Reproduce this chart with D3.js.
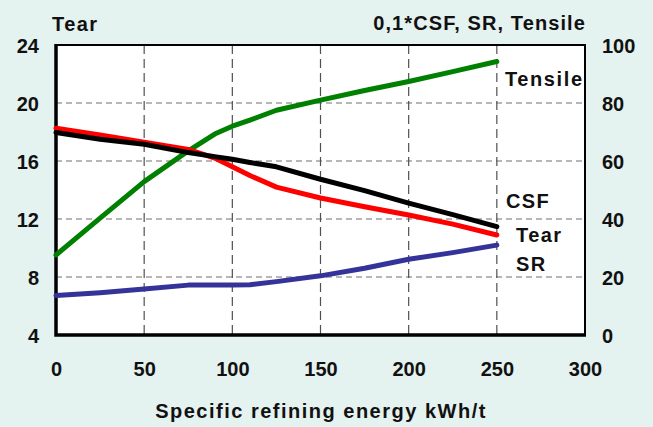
<!DOCTYPE html>
<html>
<head>
<meta charset="utf-8">
<script src="https://cdn.jsdelivr.net/npm/d3@7"></script>
<style>
  body { margin: 0; background: #e4f2f0; }
  svg text { font-family: "Liberation Sans", Arial, sans-serif; font-weight: bold; fill: #111; }
</style>
</head>
<body>
<svg id="chart"></svg>
<script>
const energy  = [0, 25, 50, 75, 90, 100, 110, 125, 150, 175, 200, 225, 250];
const tear    = [18.26, 17.8, 17.3, 16.8, 16.2, 15.6, 15.0, 14.2, 13.45, 12.85, 12.28, 11.65, 10.9];
const csf     = [69.8, 67.5, 65.8, 62.9, 61.5, 60.6, 59.5, 58.0, 53.7, 49.8, 45.5, 41.5, 37.4];
const sr      = [13.6, 14.6, 15.9, 17.2, 17.2, 17.2, 17.3, 18.4, 20.4, 23.0, 26.1, 28.4, 31.0];
const tensile = [27.6, 40.3, 52.9, 63.5, 69.3, 72.0, 74.1, 77.5, 81.0, 84.3, 87.4, 90.8, 94.3];
const xTicks = [0, 50, 100, 150, 200, 250, 300];
const leftTicks = [4, 8, 12, 16, 20, 24];
const rightTicks = [0, 20, 40, 60, 80, 100];

const W = 653, H = 427;
const L = 56, R = 585, T = 45, B = 335;

const svg = d3.select('#chart').attr('width', W).attr('height', H);

const x = d3.scaleLinear().domain([0, 300]).range([L, R]);
const yL = d3.scaleLinear().domain([4, 24]).range([B, T]);
const yR = d3.scaleLinear().domain([0, 100]).range([B, T]);

svg.append('rect')
    .attr('x', L).attr('y', T)
    .attr('width', R - L).attr('height', B - T)
    .attr('fill', '#fff');

// grid
svg.append('g').selectAll('line')
    .data(leftTicks.filter(d => d > 4 && d < 24))
    .enter().append('line')
    .attr('x1', L).attr('x2', R)
    .attr('y1', d => yL(d)).attr('y2', d => yL(d))
    .attr('stroke', '#707070').attr('stroke-width', 1.2)
    .attr('stroke-dasharray', '6,4');

svg.append('g').selectAll('line')
    .data(xTicks.filter(d => d > 0 && d < 300))
    .enter().append('line')
    .attr('x1', d => x(d)).attr('x2', d => x(d))
    .attr('y1', T).attr('y2', B)
    .attr('stroke', '#505050').attr('stroke-width', 1.2)
    .attr('stroke-dasharray', '9,5');

// frame
svg.append('rect')
    .attr('x', L).attr('y', T)
    .attr('width', R - L).attr('height', B - T)
    .attr('fill', 'none').attr('stroke', '#000').attr('stroke-width', 2);
svg.append('path')
    .attr('d', `M${L},${T - 1}V${B}H${R + 1}`)
    .attr('fill', 'none').attr('stroke', '#000').attr('stroke-width', 3.5);

// axes (labels only)
const axL = svg.append('g')
    .attr('transform', `translate(${L - 17},0)`)
    .call(d3.axisLeft(yL).tickValues(leftTicks).tickSize(0).tickPadding(0));
const axR = svg.append('g')
    .attr('transform', `translate(${R + 17},0)`)
    .call(d3.axisRight(yR).tickValues(rightTicks).tickSize(0).tickPadding(0));
const axB = svg.append('g')
    .attr('transform', `translate(0,${B + 27})`)
    .call(d3.axisBottom(x).tickValues(xTicks).tickSize(0).tickPadding(0));
[axL, axR, axB].forEach(a => {
    a.select('.domain').remove();
    a.selectAll('text')
        .style('font-size', '20px')
        .style('font-family', '"Liberation Sans", Arial, sans-serif')
        .style('font-weight', 'bold')
        .attr('fill', '#111');
});
axL.selectAll('text').attr('dy', '0.36em');
axR.selectAll('text').attr('dy', '0.36em');
axB.selectAll('text').attr('dy', '0.71em');

// series
const lineL = d3.line().x((d, i) => x(energy[i])).y(d => yL(d));
const lineR = d3.line().x((d, i) => x(energy[i])).y(d => yR(d));

const series = [
    { vals: sr, line: lineR, color: '#333399' },
    { vals: tensile, line: lineR, color: '#008000' },
    { vals: tear, line: lineL, color: '#ff0000' },
    { vals: csf, line: lineR, color: '#000000' }
];
series.forEach(s => {
    svg.append('path')
        .datum(s.vals)
        .attr('d', s.line)
        .attr('fill', 'none')
        .attr('stroke', s.color)
        .attr('stroke-width', 5)
        .attr('stroke-linejoin', 'round')
        .attr('stroke-linecap', 'round');
});

// labels
const txt = (t, xx, yy, anchor, sp) => svg.append('text')
    .attr('x', xx).attr('y', yy)
    .attr('text-anchor', anchor || 'start')
    .style('font-size', '20px')
    .style('letter-spacing', (sp == null ? 1.4 : sp) + 'px')
    .text(t);

txt('Tear', 52, 31);
txt('0,1*CSF, SR, Tensile', 586, 30, 'end', 1.1);
txt('Tensile', 505, 86, 'start', 1.6);
txt('CSF', 506, 208);
txt('Tear', 516, 242);
txt('SR', 516, 271);
txt('Specific refining energy kWh/t', 321, 418, 'middle', 1.5);
</script>
</body>
</html>
